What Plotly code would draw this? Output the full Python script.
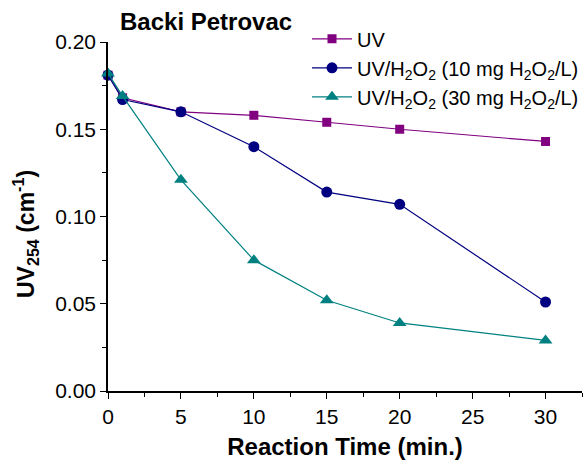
import plotly.graph_objects as go

time_min = [0, 1, 5, 10, 15, 20, 30]
uv_only = [0.181, 0.168, 0.160, 0.158, 0.154, 0.150, 0.143]
uv_h2o2_10 = [0.181, 0.167, 0.160, 0.140, 0.114, 0.107, 0.051]
uv_h2o2_30 = [0.182, 0.169, 0.121, 0.075, 0.052, 0.039, 0.029]

series_names = [
    "UV",
    "UV/H<sub>2</sub>O<sub>2</sub> (10 mg H<sub>2</sub>O<sub>2</sub>/L)",
    "UV/H<sub>2</sub>O<sub>2</sub> (30 mg H<sub>2</sub>O<sub>2</sub>/L)",
]
colors = ["#800080", "#000080", "#008080"]
symbols = ["square", "circle", "triangle-up"]
sizes = [9, 11, 12]

fig = go.Figure()
for name, ys, c, s, sz in zip(series_names, [uv_only, uv_h2o2_10, uv_h2o2_30], colors, symbols, sizes):
    fig.add_trace(go.Scatter(
        x=time_min, y=ys, name=name, mode="lines+markers",
        line=dict(color=c, width=1.2),
        marker=dict(symbol=s, size=sz, color=c),
        cliponaxis=False,
    ))

font_family = "Liberation Sans, Arial, sans-serif"
fig.update_layout(
    width=584, height=465,
    margin=dict(l=108, r=0, t=42, b=74),
    plot_bgcolor="white", paper_bgcolor="white",
    font=dict(family=font_family, size=21, color="black"),
    showlegend=True,
    legend=dict(
        x=0.42, y=1.065, xanchor="left", yanchor="top",
        bgcolor="rgba(0,0,0,0)", font=dict(size=20),
        itemwidth=40, tracegroupgap=0,
    ),
    annotations=[
        dict(
            text="<b>Backi Petrovac</b>", x=0.022, y=1.0, xref="paper", yref="paper",
            xanchor="left", yanchor="bottom", yshift=5, showarrow=False,
            font=dict(size=24, family=font_family),
        ),
        dict(
            text="<b>UV<sub>254</sub> (cm<sup>-1</sup>)</b>", x=-0.175, y=0.45,
            xref="paper", yref="paper", xanchor="center", yanchor="middle",
            textangle=-90, showarrow=False, font=dict(size=23, family=font_family),
        ),
    ],
)
fig.update_xaxes(
    range=[0, 32.5], showgrid=False, zeroline=False,
    showline=True, linecolor="black", linewidth=1.5,
    ticks="outside", ticklen=6, tickwidth=1.2, tickcolor="black",
    tick0=0, dtick=5,
    minor=dict(ticks="outside", ticklen=4, tickwidth=1, tickcolor="black", dtick=2.5, showgrid=False),
    title=dict(text="<b>Reaction Time (min.)</b>", font=dict(size=24), standoff=11),
)
fig.update_yaxes(
    range=[0, 0.20], showgrid=False, zeroline=False,
    showline=True, linecolor="black", linewidth=1.5,
    ticks="outside", ticklen=6, tickwidth=1.2, tickcolor="black",
    tick0=0, dtick=0.05, tickformat=".2f",
    minor=dict(ticks="outside", ticklen=4, tickwidth=1, tickcolor="black", dtick=0.025, showgrid=False),
)
fig.write_html("out.html")
